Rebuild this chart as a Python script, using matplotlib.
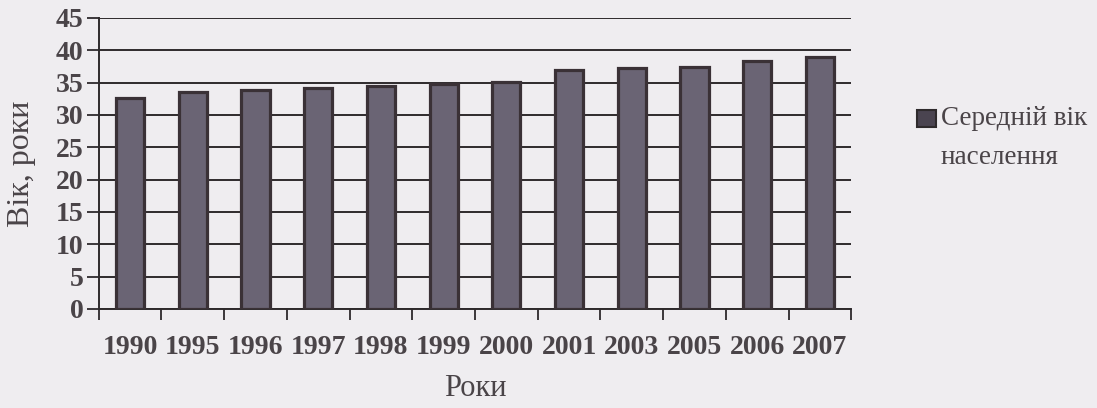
import matplotlib
matplotlib.use("Agg")
import matplotlib.pyplot as plt
from matplotlib.patches import Rectangle

years = ['1990', '1995', '1996', '1997', '1998', '1999',
         '2000', '2001', '2003', '2005', '2006', '2007']
avg_age = [32.6, 33.6, 33.9, 34.1, 34.4, 34.8,
           35.1, 36.9, 37.3, 37.4, 38.3, 38.9]
y_ticks = list(range(0, 50, 5))
legend_label = 'Середній вік\nнаселення'

BG = '#efedf0'
BAR = '#6a6474'
EDGE = '#3a3136'
TXT = '#4a4448'
LINE = '#2e2a2c'

plt.rcParams['font.family'] = ['Liberation Serif', 'DejaVu Serif']

fig = plt.figure(figsize=(10.97, 4.08), dpi=100, facecolor=BG)
ax = fig.add_axes([0.090, 0.243, 0.686, 0.713], facecolor=BG)

x = list(range(len(years)))
ax.bar(x, avg_age, width=0.45, color=BAR, edgecolor=EDGE,
       linewidth=2.3, zorder=3)

ax.set_xlim(-0.5, len(years) - 0.5)
ax.set_ylim(0, 45)
ax.set_yticks(y_ticks)
ax.set_yticklabels([str(v) for v in y_ticks], fontsize=20,
                   fontweight='bold', color=TXT)

# ticks on category boundaries, labels centred under bars
ax.set_xticks([i - 0.5 for i in range(len(years) + 1)])
ax.set_xticklabels([])
ax.set_xticks(x, minor=True)
ax.set_xticklabels(years, minor=True, fontsize=20,
                   fontweight='bold', color=TXT)
ax.tick_params(axis='x', which='minor', length=0, pad=19)
ax.tick_params(axis='x', which='major', length=8, width=1.3,
               color=LINE, direction='out')
ax.tick_params(axis='y', length=9, width=1.3, color=LINE, pad=2)

ax.grid(axis='y', color=LINE, linewidth=1.4, zorder=0)
for s in ['top', 'right']:
    ax.spines[s].set_visible(False)
for s in ['left', 'bottom']:
    ax.spines[s].set_linewidth(1.4)
    ax.spines[s].set_color(LINE)

ax.set_xlabel('Роки', fontsize=22, color=TXT, labelpad=10)
ax.set_ylabel('Вік, роки', fontsize=23, color=TXT)
ax.yaxis.set_label_coords(-0.083, 0.5)

# legend: square marker next to the first line of a two-line label
fig.patches.append(Rectangle((917 / 1097, 1 - 127 / 408), 19 / 1097, 17 / 408,
                             transform=fig.transFigure, facecolor='#4a4450',
                             edgecolor=LINE, linewidth=1.5))
fig.text(941 / 1097, 1 - 106 / 408, legend_label, fontsize=19.5,
         color=TXT, va='top', ha='left', linespacing=1.75)

fig.savefig('out.png', dpi=100, facecolor=BG)
